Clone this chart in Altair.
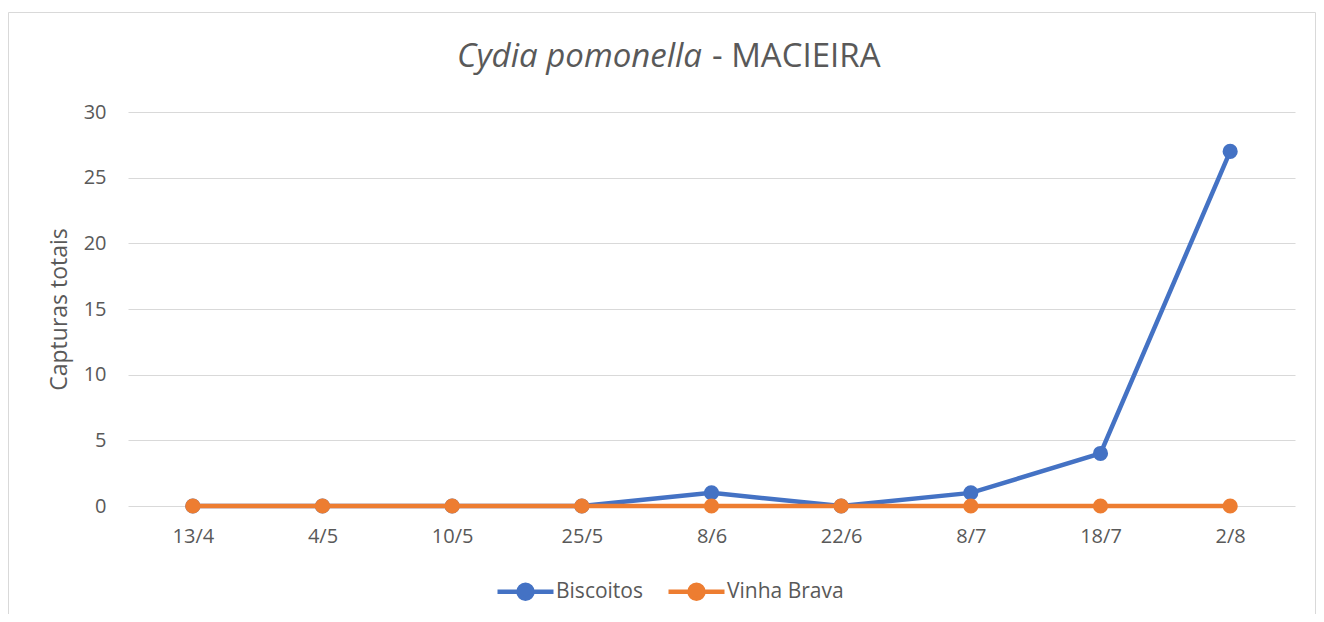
import altair as alt
import pandas as pd

dates = ["13/4", "4/5", "10/5", "25/5", "8/6", "22/6", "8/7", "18/7", "2/8"]
biscoitos = [0, 0, 0, 0, 1, 0, 1, 4, 27]
vinha_brava = [0, 0, 0, 0, 0, 0, 0, 0, 0]
series_names = ["Biscoitos", "Vinha Brava"]
colors = ["#4472C4", "#ED7D31"]
y_ticks = [0, 5, 10, 15, 20, 25, 30]

rows = []
for name, vals in zip(series_names, [biscoitos, vinha_brava]):
    for i, (d, v) in enumerate(zip(dates, vals)):
        rows.append({"date": d, "value": v, "series": name, "order": i})
df = pd.DataFrame(rows)

W, H = 1167, 394
FONT = "Open Sans"
GREY = "#595959"

cscale = alt.Scale(domain=series_names, range=colors)
xenc = alt.X("date:N", sort=dates, scale=alt.Scale(padding=0.5),
             axis=alt.Axis(title=None, labelAngle=0, grid=False))
yenc = alt.Y("value:Q", scale=alt.Scale(domain=[0, 30], nice=False),
             axis=alt.Axis(title="Capturas totais", values=y_ticks, titlePadding=12))

sym = "M-1,0L1,0M0.25,0A0.25,0.25,0,1,1,-0.25,0A0.25,0.25,0,1,1,0.25,0Z"
leg = alt.Legend(title=None, orient="none", direction="horizontal",
                 legendX=367, legendY=449, symbolType=sym, symbolSize=3136,
                 symbolStrokeWidth=4.5, labelFontSize=21, labelFont=FONT,
                 labelColor=GREY, columnPadding=16, labelOffset=0)

border = alt.Chart(alt.Data(values=[{"a": 1}])).mark_rect(
    fill=None, stroke="#d9d9d9", strokeWidth=1
).encode(x=alt.value(-119.5), x2=alt.value(1187.5), y=alt.value(-99.5), y2=alt.value(530))

parts = []
for name in series_names:
    sub = df[df.series == name]
    ln = alt.Chart(sub).mark_line(strokeWidth=4.5).encode(
        x=xenc, y=yenc, order="order:Q",
        stroke=alt.Stroke("series:N", scale=cscale, legend=leg),
    )
    pt = alt.Chart(sub).mark_point(filled=True, size=230, opacity=1).encode(
        x=xenc, y=yenc,
        fill=alt.Fill("series:N", scale=cscale, legend=leg),
    )
    parts += [ln, pt]

title_it = alt.Chart(alt.Data(values=[{"t": "Cydia pomonella"}])).mark_text(
    align="right", baseline="alphabetic", fontSize=33, font=FONT,
    fontStyle="italic", color=GREY
).encode(text="t:N", x=alt.value(574), y=alt.value(-45))
title_rest = alt.Chart(alt.Data(values=[{"t": "- MACIEIRA"}])).mark_text(
    align="left", baseline="alphabetic", fontSize=33, font=FONT, color=GREY
).encode(text="t:N", x=alt.value(584), y=alt.value(-45))

chart = alt.layer(border, *parts, title_it, title_rest).properties(
    width=W, height=H,
    autosize=alt.AutoSizeParams(type="none"),
    padding={"left": 120, "top": 104, "right": 21, "bottom": 108},
).configure_view(stroke=None).configure_axis(
    domain=False, ticks=False, gridColor="#d9d9d9", gridWidth=1,
    labelFont=FONT, labelFontSize=20, labelColor=GREY,
    titleFont=FONT, titleFontSize=23, titleColor=GREY, titleFontWeight="normal",
).configure_axisX(labelPadding=20).configure_axisY(labelPadding=22)

chart.save("out.html", embed_options={"renderer": "svg", "actions": False})
